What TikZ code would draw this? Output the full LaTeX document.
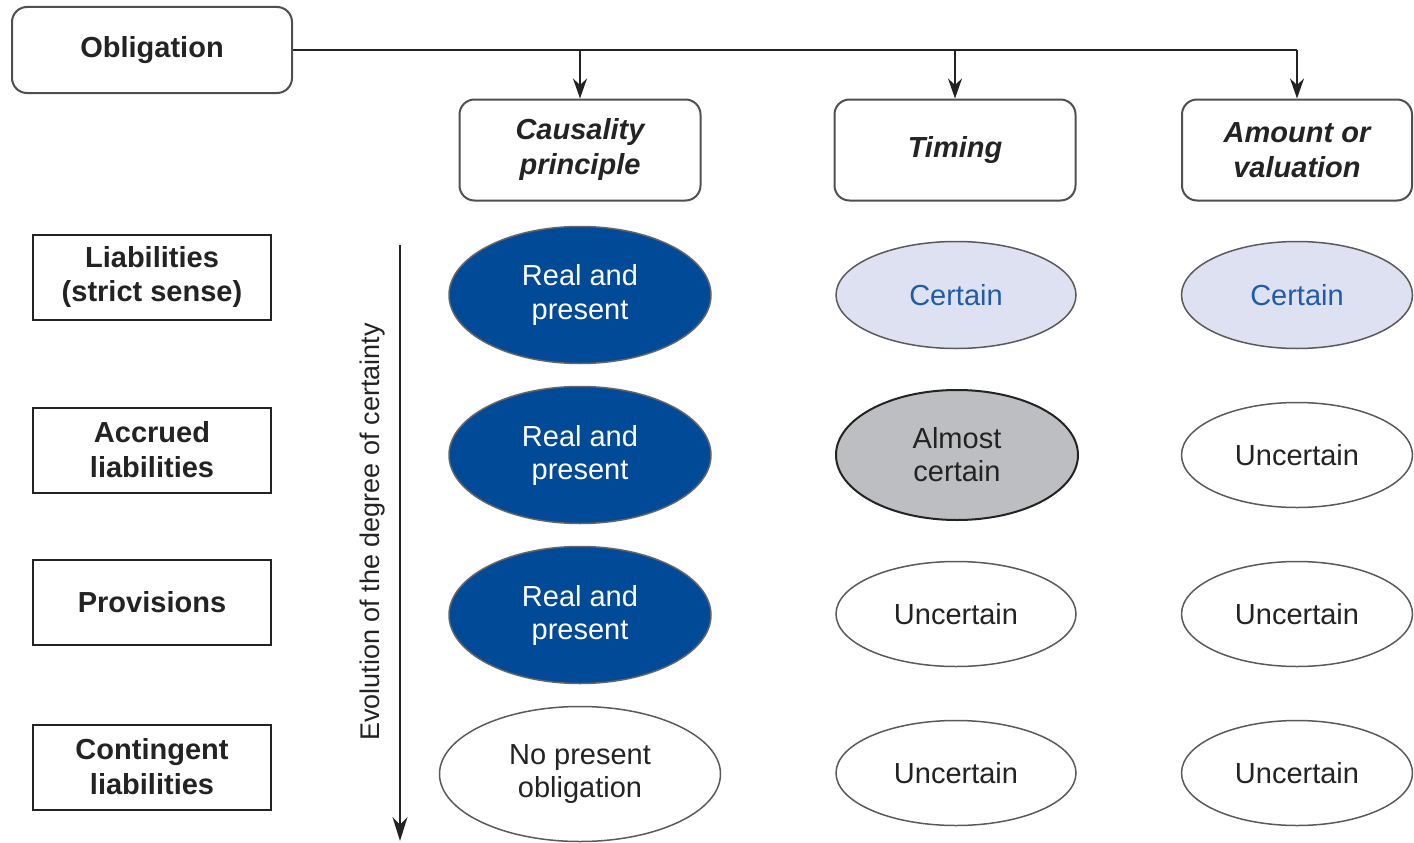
\documentclass[tikz,border=0pt]{standalone}
\usepackage{fontspec}
\setmainfont{Liberation Sans}
\usetikzlibrary{shapes.geometric,arrows.meta}
\definecolor{dblue}{HTML}{004A97}
\definecolor{lblue}{HTML}{DDE1F1}
\definecolor{lgrey}{HTML}{BDBEC1}
\definecolor{ink}{HTML}{232323}
\definecolor{cblue}{HTML}{1F5BA8}
\begin{document}
\begin{tikzpicture}[x=1pt,y=-1pt,
  obox/.style={draw=ink!80, line width=2pt, rounded corners=15pt, minimum width=280pt, minimum height=86pt, align=center, text=ink, font=\fontsize{29}{33}\selectfont\bfseries},
  rbox/.style={draw=ink!80, line width=2pt, rounded corners=15pt, minimum width=241pt, minimum height=101pt, align=center, text=ink, font=\fontsize{29}{35}\selectfont\bfseries\itshape},
  lbox/.style={draw=ink, line width=2pt, minimum width=238pt, minimum height=85pt, align=center, text=ink, font=\fontsize{29}{35}\selectfont\bfseries},
  ell/.style={ellipse, inner sep=0pt, align=center, font=\fontsize{29}{33}\selectfont},
  blueell/.style={ell, fill=dblue, draw=ink!70, line width=1.5pt, minimum width=262pt, minimum height=137pt, text=white},
  certell/.style={ell, fill=lblue, draw=ink!75, line width=1.5pt, minimum height=107pt, text=cblue},
  greyell/.style={ell, fill=lgrey, draw=ink, line width=2pt, minimum height=130pt, text=ink},
  whiteell/.style={ell, fill=white, draw=ink!75, line width=1.5pt, minimum height=105pt, text=ink},
  conn/.style={draw=ink, line width=2pt},
  arr/.style={conn, -{Stealth[length=20pt,width=14pt]}}
]
\useasboundingbox (0,0) rectangle (1414,843);

% top
\node[obox] (obl) at (152,50) {Obligation};
\node[rbox] (caus) at (580,150) {Causality\\principle};
\node[rbox] (tim) at (955,150) {Timing};
\node[rbox, minimum width=230pt] (amt) at (1297,150) {Amount or\\valuation};

\draw[conn] (obl.east) -- (obl.east -| amt.north);
\draw[arr] (obl.east -| caus.north) -- (caus.north);
\draw[arr] (obl.east -| tim.north) -- (tim.north);
\draw[arr] (obl.east -| amt.north) -- (amt.north);

% left labels
\node[lbox] (l1) at (152,277) {Liabilities\\(strict sense)};
\node[lbox] (l2) at (152,450) {Accrued\\liabilities};
\node[lbox] (l3) at (152,602) {Provisions};
\node[lbox] (l4) at (152,767) {Contingent\\liabilities};

% vertical arrow
\coordinate (at) at (400,245);
\coordinate (ab) at (400,841);
\draw[conn, -{Stealth[length=24pt,width=15pt]}] (at) -- (ab);
\node[rotate=90, text=ink, font=\fontsize{27}{30}\selectfont] (ev) at (373,532) {Evolution of the degree of certainty};

% column 1
\node[blueell] (e11) at (580,295) {Real and\\present};
\node[blueell] (e21) at (580,455) {Real and\\present};
\node[blueell] (e31) at (580,615) {Real and\\present};
\node[whiteell, minimum width=281pt, minimum height=135pt] (e41) at (580,774) {No present\\obligation};

% column 2
\node[certell, minimum width=240pt] (e12) at (956,295) {Certain};
\node[greyell, minimum width=242pt] (e22) at (957,455) {Almost\\certain};
\node[whiteell, minimum width=240pt] (e32) at (956,614) {Uncertain};
\node[whiteell, minimum width=240pt] (e42) at (956,773) {Uncertain};

% column 3
\node[certell, minimum width=231pt] (e13) at (1297,295) {Certain};
\node[whiteell, minimum width=231pt] (e23) at (1297,455) {Uncertain};
\node[whiteell, minimum width=231pt] (e33) at (1297,614) {Uncertain};
\node[whiteell, minimum width=231pt] (e43) at (1297,773) {Uncertain};
\end{tikzpicture}
\end{document}
